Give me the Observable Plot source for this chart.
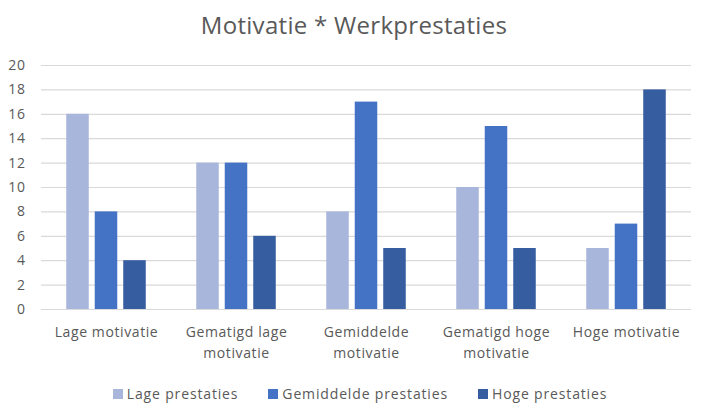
<!DOCTYPE html>
<html>
<head>
<meta charset="utf-8">
<script src="https://cdn.jsdelivr.net/npm/d3@7"></script>
<script src="https://cdn.jsdelivr.net/npm/@observablehq/plot@0.6"></script>
<style>
  html, body { margin: 0; padding: 0; background: #fff; }
  #wrap { width: 708px; height: 417px; font-family: "Open Sans", sans-serif; color: #595959; position: relative; overflow: hidden; }
  #title { height: 50px; line-height: 50px; text-align: center; font-size: 24px; letter-spacing: 0.3px; color: #595959; }
  #chart svg { display: block; }
  #legend { display: flex; justify-content: center; font-size: 14px; letter-spacing: 0.85px; line-height: 20px; margin-top: 14px; padding-left: 12px; }
  #legend .item { display: flex; align-items: center; margin-right: 30px; }
  #legend .item:last-child { margin-right: 0; }
  #legend .sw { width: 10px; height: 10px; margin-right: 4px; display: inline-block; }
</style>
</head>
<body>
<div id="wrap">
  <div id="title">Motivatie * Werkprestaties</div>
  <div id="chart"></div>
  <div id="legend"></div>
</div>
<script>
const categories = ["Lage motivatie", "Gematigd lage\nmotivatie", "Gemiddelde\nmotivatie", "Gematigd hoge\nmotivatie", "Hoge motivatie"];
const seriesNames = ["Lage prestaties", "Gemiddelde prestaties", "Hoge prestaties"];
const lagePrestaties = [16, 12, 8, 10, 5];
const gemiddeldePrestaties = [8, 12, 17, 15, 7];
const hogePrestaties = [4, 6, 5, 5, 18];
const colors = ["#A9B6DB", "#4472C4", "#355D9F"];
const yTicks = [0, 2, 4, 6, 8, 10, 12, 14, 16, 18, 20];

const seriesValues = [lagePrestaties, gemiddeldePrestaties, hogePrestaties];
const data = [];
categories.forEach((c, i) => {
  seriesNames.forEach((s, j) => data.push({category: c, series: s, value: seriesValues[j][i]}));
});

const chart = Plot.plot({
  width: 708,
  height: 320,
  marginLeft: 41,
  marginRight: 17,
  marginTop: 15,
  marginBottom: 61,
  style: {fontFamily: "'Open Sans', sans-serif", fontSize: "14px", color: "#595959", letterSpacing: "0.6px"},
  fx: {domain: categories, padding: 0, label: null, round: false, axis: null},
  x: {domain: seriesNames, paddingInner: 0.21, paddingOuter: 0.886, axis: null, round: false},
  y: {domain: [0, 20], label: null, axis: null},
  color: {domain: seriesNames, range: colors},
  marks: [
    Plot.gridY(yTicks, {stroke: "#d9d9d9", strokeOpacity: 1, strokeWidth: 1.2}),
    Plot.barY(data, {fx: "category", x: "series", y: "value", fill: "series"}),
    Plot.axisY(yTicks, {tickSize: 0, tickPadding: 16, label: null, fontSize: 14, fill: "#595959"}),
    Plot.axisFx({anchor: "bottom", tickSize: 0, tickPadding: 13, label: null, fontSize: 14, fill: "#595959", lineHeight: 1.5})
  ]
});
document.getElementById("chart").appendChild(chart);

const legend = document.getElementById("legend");
seriesNames.forEach((s, j) => {
  const item = document.createElement("div");
  item.className = "item";
  const sw = document.createElement("span");
  sw.className = "sw";
  sw.style.background = colors[j];
  const t = document.createElement("span");
  t.textContent = s;
  item.appendChild(sw);
  item.appendChild(t);
  legend.appendChild(item);
});
</script>
</body>
</html>
